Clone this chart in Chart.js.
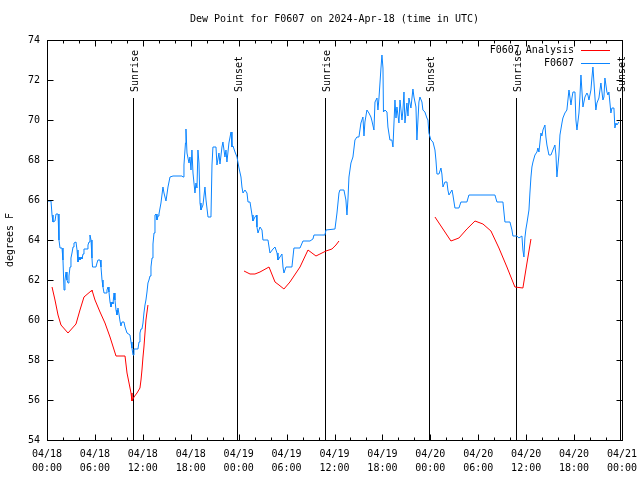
<!DOCTYPE html>
<html>
<head>
<meta charset="utf-8">
<script src="https://cdn.jsdelivr.net/npm/chart.js@4"></script>
<style>
html, body { margin: 0; padding: 0; background: #fff; }
</style>
</head>
<body>
<canvas id="dewChart" width="640" height="480"></canvas>
<script>
// hours since 04/18 00:00 UTC
const obsHours = [
    0.13, 0.5, 0.63, 0.75, 1.0, 1.13, 1.38, 1.5, 1.63, 1.88, 2.0, 2.13, 2.25, 2.38, 2.5, 2.63, 2.75, 2.88,
    3.0, 3.13, 3.26, 3.38, 3.63, 3.76, 3.88, 4.01, 4.13, 4.26, 4.38, 4.51, 4.63, 5.01, 5.13, 5.26, 5.38,
    5.51, 5.63, 5.7, 6.13, 6.26, 6.38, 6.64, 6.76, 6.89, 7.01, 7.14, 7.39, 7.51, 7.64, 7.76, 7.89, 8.01,
    8.14, 8.26, 8.39, 8.51, 8.64, 8.76, 8.89, 9.01, 9.14, 9.26, 9.39, 9.64, 9.77, 10.02, 10.39, 10.52,
    10.64, 10.77, 10.89, 11.39, 11.52, 11.64, 11.77, 11.89, 12.02, 12.14, 12.27, 12.39, 12.52, 12.64,
    12.77, 12.9, 13.02, 13.15, 13.27, 13.4, 13.52, 13.65, 13.77, 13.9, 14.02, 14.27, 14.52, 14.65, 14.9,
    15.15, 15.4, 15.78, 16.9, 17.03, 17.15, 17.34, 17.4, 17.53, 17.78, 17.9, 18.03, 18.15, 18.28, 18.53,
    18.65, 18.78, 18.9, 19.03, 19.16, 19.28, 19.53, 19.78, 19.91, 20.16, 20.53, 20.66, 20.78, 21.16,
    21.28, 21.53, 21.66, 21.91, 22.03, 22.28, 22.41, 22.53, 22.78, 23.04, 23.16, 23.29, 23.54, 23.79,
    24.04, 24.29, 24.41, 24.54, 24.79, 25.04, 25.17, 25.42, 25.67, 25.79, 26.04, 26.23, 26.29, 26.42,
    26.67, 26.92, 27.04, 27.67, 27.92, 28.3, 28.55, 28.8, 28.92, 29.17, 29.42, 29.55, 29.67, 29.92,
    30.67, 30.92, 31.68, 32.05, 32.93, 33.3, 33.43, 34.43, 34.8, 34.93, 36.06, 36.31, 36.56, 36.68,
    37.18, 37.43, 37.56, 37.68, 37.81, 38.06, 38.31, 38.56, 38.81, 39.06, 39.31, 39.56, 39.69, 39.81,
    40.06, 40.31, 40.56, 40.69, 40.94, 41.07, 41.32, 41.44, 41.57, 41.82, 41.94, 42.07, 42.13, 42.32,
    42.57, 42.69, 42.94, 43.19, 43.32, 43.57, 43.7, 43.82, 44.07, 44.2, 44.45, 44.57, 44.7, 44.82,
    45.07, 45.2, 45.32, 45.57, 45.82, 45.95, 46.2, 46.32, 46.57, 46.7, 46.95, 47.07, 47.32, 47.57,
    47.7, 47.82, 48.07, 48.33, 48.58, 48.7, 48.83, 49.08, 49.33, 49.45, 49.58, 49.83, 50.08, 50.2,
    50.33, 50.71, 50.83, 51.08, 51.58, 51.83, 52.58, 52.83, 56.09, 56.34, 57.09, 57.34, 57.97, 58.22,
    58.34, 58.84, 59.09, 59.47, 59.59, 59.72, 59.84, 59.97, 60.1, 60.35, 60.47, 60.6, 60.72, 60.85,
    61.1, 61.35, 61.47, 61.6, 61.85, 61.97, 62.1, 62.35, 62.47, 62.6, 62.85, 63.1, 63.35, 63.6, 63.73,
    63.85, 64.1, 64.23, 64.48, 64.6, 64.85, 65.1, 65.23, 65.36, 65.61, 65.73, 65.86, 66.11, 66.23,
    66.36, 66.61, 66.73, 66.86, 67.11, 67.23, 67.36, 67.61, 67.73, 67.86, 68.11, 68.23, 68.36, 68.61,
    68.73, 68.86, 69.11, 69.24, 69.36, 69.61, 69.74, 69.86, 70.11, 70.24, 70.36, 70.61, 70.74, 70.99,
    71.11, 71.24, 71.36, 71.61
];
const obsValues = [
    65.95, 65.95, 65.25, 64.9, 64.95, 65.3, 65.3, 64.0, 63.6, 63.6, 63.0, 61.5, 62.0, 62.4, 62.0, 61.85, 62.2, 62.65,
    63.1, 63.35, 63.65, 63.85, 63.9, 63.5, 62.9, 63.15, 63.0, 63.15, 63.05, 63.3, 63.55, 63.55, 63.75, 63.9, 64.25,
    64.0, 63.1, 62.65, 62.65, 62.85, 63.0, 63.0, 62.65, 62.0, 61.65, 61.35, 61.35, 61.5, 61.65, 61.4, 60.9, 60.65,
    60.9, 60.8, 61.35, 61.0, 60.5, 60.25, 60.6, 60.3, 59.95, 59.7, 59.9, 59.9, 59.65, 59.35, 59.25, 58.9,
    58.6, 58.25, 58.55, 58.55, 58.9, 59.35, 59.55, 59.55, 59.85, 60.35, 60.75, 61.0, 61.4, 61.85,
    62.0, 62.2, 62.65, 63.1, 63.8, 64.35, 65.25, 65.3, 65.0, 65.2, 65.3, 65.85, 66.65, 66.35, 65.95,
    66.65, 67.15, 67.2, 67.2, 67.15, 67.75, 68.85, 69.55, 68.35, 67.85, 68.15, 67.5, 68.5, 67.35, 66.35,
    66.85, 66.6, 68.5, 67.85, 65.85, 65.5, 65.75, 66.65, 66.0, 65.15, 65.15, 67.75, 68.65, 68.65,
    67.75, 68.35, 67.8, 68.65, 68.9, 68.15, 68.5, 67.9, 68.85, 69.4, 68.65, 68.7, 68.4, 68.15,
    67.6, 67.15, 66.65, 66.35, 66.5, 66.35, 65.9, 65.9, 65.25, 64.95, 65.15, 65.25, 64.65, 64.35,
    64.65, 64.5, 64.0, 64.0, 63.35, 63.55, 63.65, 63.35, 63.0, 63.15, 63.3, 62.65, 62.35, 62.65,
    62.65, 63.6, 63.6, 63.95, 63.95, 64.05, 64.25, 64.25, 64.25, 64.5, 64.55, 65.35, 66.35, 66.5,
    66.5, 66.0, 65.25, 66.0, 67.15, 67.85, 68.15, 69.0, 69.15, 69.15, 69.85, 70.15, 69.2, 69.9,
    70.5, 70.35, 70.15, 69.95, 69.5, 70.9, 71.1, 70.5, 71.1, 72.6, 73.25, 72.6, 70.4, 70.5,
    70.4, 69.65, 69.0, 69.0, 68.65, 71.0, 70.1, 70.65, 69.85, 71.0, 70.0, 70.5, 71.4, 69.85,
    70.85, 70.2, 71.1, 70.6, 71.55, 71.15, 70.65, 69.0, 70.9, 71.15, 70.9, 70.5, 70.4, 70.1,
    70.0, 69.35, 69.0, 68.9, 68.5, 68.0, 67.3, 67.3, 67.6, 67.3, 66.65, 66.9, 66.9, 66.5,
    66.25, 66.5, 66.25, 65.6, 65.6, 65.9, 65.9, 66.25, 66.25, 65.9, 65.9, 64.9, 64.9, 64.5,
    64.2, 64.2, 64.1, 64.2, 63.5, 63.15, 64.1, 64.55, 64.85, 65.5, 66.35, 67.15, 67.65, 67.9,
    68.25, 68.4, 68.6, 68.4, 69.35, 69.2, 69.5, 69.75, 69.15, 68.75, 68.25, 68.25, 68.5, 68.75, 68.25,
    67.15, 68.25, 69.25, 69.85, 70.1, 70.35, 70.5, 71.0, 71.5, 70.75, 71.1, 71.4, 71.4, 70.0,
    69.5, 70.35, 71.15, 72.25, 70.65, 70.9, 71.15, 71.35, 71.25, 71.0, 71.5, 72.1, 72.65, 71.15,
    70.5, 70.85, 71.1, 71.5, 71.85, 71.0, 71.15, 72.1, 71.4, 71.25, 71.4, 70.35, 70.6, 70.6,
    69.6, 69.85, 69.75, 69.9
];

// analysis runs, null = gap between runs
const anaHours = [
    0.63, 1.0, 1.38, 1.75, 2.63, 3.63, 4.13, 4.63, 5.51, 5.63, 6.01, 6.64, 7.26, 7.89, 8.64, 9.77, 10.02,
    10.27, 10.52, 10.64, 10.89, 11.27, 11.64, 11.77, 11.89, 12.02, 12.14, 12.27, 12.39, 12.64,
    18,
    24.67, 25.42, 26.04, 26.67, 27.8, 28.55, 29.05, 29.67, 30.42, 31.68, 32.68, 33.18, 33.68, 34.18,
    34.93, 35.68, 36.18, 36.56,
    42,
    48.58, 49.58, 50.58, 51.58, 52.58, 53.59, 54.59, 55.59, 56.59, 57.59, 58.59, 59.59, 60.1, 60.6
];
const anaValues = [
    61.65, 61.0, 60.25, 59.75, 59.35, 59.8, 60.5, 61.15, 61.45, 61.5, 61.0, 60.4, 59.85, 59.15, 58.2, 58.2, 57.35,
    56.85, 56.35, 55.95, 56.15, 56.35, 56.6, 57.0, 57.5, 58.15, 58.65, 59.35, 60.0, 60.75,
    null,
    62.45, 62.3, 62.3, 62.4, 62.65, 61.9, 61.75, 61.55, 61.9, 62.65, 63.5, 63.35, 63.2, 63.3,
    63.45, 63.55, 63.75, 63.95,
    null,
    65.15, 64.55, 63.95, 64.1, 64.55, 64.95, 64.8, 64.45, 63.6, 62.65, 61.65, 61.6, 62.85, 64.05
];

const tickDates = ['04/18', '04/18', '04/18', '04/18', '04/19', '04/19', '04/19', '04/19', '04/20', '04/20', '04/20', '04/20', '04/21'];
const tickTimes = ['00:00', '06:00', '12:00', '18:00', '00:00', '06:00', '12:00', '18:00', '00:00', '06:00', '12:00', '18:00', '00:00'];

const sunHours = [10.77, 23.78, 34.8, 47.8, 58.7, 71.8];
const sunLabels = ['Sunrise', 'Sunset', 'Sunrise', 'Sunset', 'Sunrise', 'Sunset'];

const FONT = "'DejaVu Sans Mono', monospace";
const BLUE = '#0a84ff';
const RED = '#ff0000';

// gnuplot-like frame, inward ticks, sun lines and legend
const decorPlugin = {
    id: 'decor',
    beforeDatasetsDraw(chart) {
        const { ctx, chartArea: a, scales: { x } } = chart;
        ctx.save();
        ctx.strokeStyle = '#000';
        ctx.lineWidth = 1;
        ctx.fillStyle = '#000';
        ctx.font = '10px ' + FONT;
        sunHours.forEach((h, i) => {
            const px = Math.round(x.getPixelForValue(h)) + 0.5;
            ctx.beginPath();
            ctx.moveTo(px, a.top + 58);
            ctx.lineTo(px, a.bottom);
            ctx.stroke();
            ctx.save();
            ctx.translate(px + 4, a.top + 52);
            ctx.rotate(-Math.PI / 2);
            ctx.textAlign = 'left';
            ctx.fillText(sunLabels[i], 0, 0);
            ctx.restore();
        });
        ctx.restore();
    },
    afterDraw(chart) {
        const { ctx, chartArea: a, scales: { x, y } } = chart;
        ctx.save();
        ctx.strokeStyle = '#000';
        ctx.lineWidth = 1;
        const L = Math.round(a.left) + 0.5, R = Math.round(a.right) + 0.5;
        const T = Math.round(a.top) + 0.5, B = Math.round(a.bottom) + 0.5;
        ctx.strokeRect(L, T, R - L, B - T);

        ctx.beginPath();
        for (let h = 0; h <= 72; h += 2) {
            const px = Math.round(x.getPixelForValue(h)) + 0.5;
            const len = h % 6 === 0 ? 6 : 3;
            ctx.moveTo(px, B); ctx.lineTo(px, B - len);
            ctx.moveTo(px, T); ctx.lineTo(px, T + len);
        }
        y.ticks.forEach(t => {
            const py = Math.round(y.getPixelForValue(t.value)) + 0.5;
            ctx.moveTo(L, py); ctx.lineTo(L + 6, py);
            ctx.moveTo(R, py); ctx.lineTo(R - 6, py);
        });
        ctx.stroke();

        // legend
        const items = [['F0607 Analysis', RED], ['F0607', BLUE]];
        ctx.font = '10px ' + FONT;
        ctx.textAlign = 'right';
        ctx.textBaseline = 'middle';
        items.forEach((it, i) => {
            const ly = a.top + 10 + i * 13;
            ctx.fillStyle = '#000';
            ctx.fillText(it[0], a.right - 48, ly);
            ctx.strokeStyle = it[1];
            ctx.beginPath();
            ctx.moveTo(a.right - 41, Math.round(ly) + 0.5);
            ctx.lineTo(a.right - 12, Math.round(ly) + 0.5);
            ctx.stroke();
        });
        ctx.restore();
    }
};

const ctx = document.getElementById('dewChart').getContext('2d');
new Chart(ctx, {
    type: 'line',
    data: {
        datasets: [
            {
                label: 'F0607 Analysis',
                data: anaHours.map((h, i) => ({ x: h, y: anaValues[i] })),
                borderColor: RED,
                borderWidth: 1,
                pointRadius: 0,
                tension: 0,
                spanGaps: false
            },
            {
                label: 'F0607',
                data: obsHours.map((h, i) => ({ x: h, y: obsValues[i] })),
                borderColor: BLUE,
                borderWidth: 1,
                pointRadius: 0,
                tension: 0
            }
        ]
    },
    options: {
        responsive: false,
        animation: false,
        layout: { padding: { left: 0, right: 18, top: 0, bottom: 0 } },
        plugins: {
            legend: { display: false },
            tooltip: { enabled: false },
            title: {
                display: true,
                text: 'Dew Point for F0607 on 2024-Apr-18 (time in UTC)',
                color: '#000',
                fullSize: false,
                font: { family: FONT, size: 10, weight: 'normal', lineHeight: 1.2 },
                padding: { top: 13, bottom: 15 }
            }
        },
        scales: {
            x: {
                type: 'linear',
                min: 0,
                max: 72,
                afterFit: s => { s.height = 40; s.paddingLeft = 0; s.paddingRight = 0; },
                grid: { display: false, drawTicks: false },
                border: { display: false },
                ticks: {
                    stepSize: 6,
                    autoSkip: false,
                    maxRotation: 0,
                    padding: 7,
                    color: '#000',
                    font: { family: FONT, size: 10, lineHeight: 1.4 },
                    callback: (v, i) => [tickDates[i], tickTimes[i]]
                }
            },
            y: {
                min: 54,
                max: 74,
                afterFit: s => { s.width = 47; s.paddingTop = 0; s.paddingBottom = 0; },
                grid: { display: false, drawTicks: false },
                border: { display: false },
                title: {
                    display: true,
                    text: 'degrees F',
                    color: '#000',
                    font: { family: FONT, size: 10, lineHeight: 1.2 },
                    padding: { top: 4, bottom: 0 }
                },
                ticks: {
                    stepSize: 2,
                    padding: 7,
                    color: '#000',
                    font: { family: FONT, size: 10 }
                }
            }
        }
    },
    plugins: [decorPlugin]
});
</script>
</body>
</html>
